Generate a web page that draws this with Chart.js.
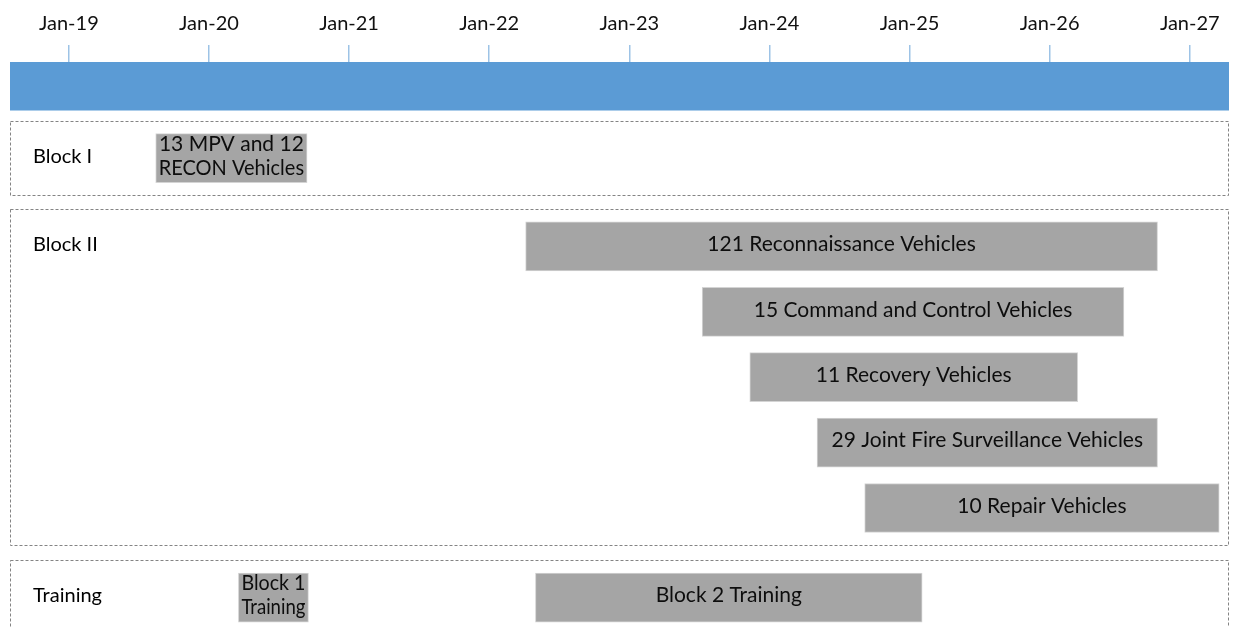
<!DOCTYPE html>
<html>
<head>
<meta charset="utf-8">
<script src="https://cdn.jsdelivr.net/npm/chart.js@4"></script>
<style>
  html, body { margin: 0; padding: 0; background: #fff; }
  #wrap { width: 1239px; height: 627px; position: relative; }
</style>
</head>
<body>
<div id="wrap"><canvas id="timeline"></canvas></div>
<script>
// dates are fractional years (2019.5 = mid 2019)
const timelineStart = 2018.58;
const timelineEnd = 2027.28;
const tickLabels = ['Jan-19', 'Jan-20', 'Jan-21', 'Jan-22', 'Jan-23', 'Jan-24', 'Jan-25', 'Jan-26', 'Jan-27'];
const tickYears = [2019, 2020, 2021, 2022, 2023, 2024, 2025, 2026, 2027];

const groupNames = ['Block I', 'Block II', 'Training'];

const tasks = [
  '13 MPV and 12\nRECON Vehicles',
  '121 Reconnaissance Vehicles',
  '15 Command and Control Vehicles',
  '11 Recovery Vehicles',
  '29 Joint Fire Surveillance Vehicles',
  '10 Repair Vehicles',
  'Block 1\nTraining',
  'Block 2 Training'
];
const taskGroup = ['Block I', 'Block II', 'Block II', 'Block II', 'Block II', 'Block II', 'Training', 'Training'];
const taskLane = [0, 0, 1, 2, 3, 4, 0, 0];
const taskStart = [2019.62, 2022.26, 2023.52, 2023.86, 2024.34, 2024.68, 2020.21, 2022.33];
const taskEnd = [2020.70, 2026.77, 2026.53, 2026.20, 2026.77, 2027.21, 2020.71, 2025.09];

// layout: where each group's first lane sits on the hidden y axis (timeline band at 0)
const groupRow = { 'Block I': 1.10, 'Block II': 2.45, 'Training': 7.82 };
const boxPad = 0.57;
const font = 'Lato, "Open Sans", sans-serif';

const rowOf = i => groupRow[taskGroup[i]] + taskLane[i];

const groupBoxes = {
  id: 'groupBoxes',
  beforeDatasetsDraw(chart) {
    const { ctx, chartArea, scales: { y } } = chart;
    ctx.save();
    groupNames.forEach(name => {
      const rows = tasks.map((t, i) => i).filter(i => taskGroup[i] === name).map(rowOf);
      const top = Math.round(y.getPixelForValue(Math.min(...rows) - boxPad)) + 0.5;
      const bottom = Math.round(y.getPixelForValue(Math.max(...rows) + boxPad)) + 0.5;
      ctx.strokeStyle = '#848484';
      ctx.lineWidth = 1;
      ctx.setLineDash([3, 2]);
      ctx.strokeRect(chartArea.left + 0.5, top, chartArea.right - chartArea.left - 1, bottom - top);
      ctx.setLineDash([]);
      ctx.fillStyle = '#000';
      ctx.font = '20px ' + font;
      ctx.textAlign = 'left';
      ctx.textBaseline = 'middle';
      ctx.fillText(name, chartArea.left + 23, y.getPixelForValue(Math.min(...rows)) - 2);
    });
    ctx.restore();
  }
};

const barText = {
  id: 'barText',
  afterDatasetsDraw(chart) {
    const { ctx } = chart;
    const meta = chart.getDatasetMeta(1);
    ctx.save();
    ctx.fillStyle = '#0d0d0d';
    ctx.font = '21px ' + font;
    ctx.textAlign = 'center';
    ctx.textBaseline = 'middle';
    meta.data.forEach((bar, i) => {
      const lines = tasks[i].split('\n');
      const cx = (bar.x + bar.base) / 2;
      const w = Math.abs(bar.x - bar.base) - 6;
      const lh = 24;
      const y0 = bar.y - 2 - (lines.length - 1) * lh / 2;
      lines.forEach((line, k) => ctx.fillText(line, cx, y0 + k * lh, w));
    });
    ctx.restore();
  }
};

new Chart(document.getElementById('timeline'), {
  type: 'bar',
  data: {
    datasets: [
      {
        label: 'Timeline',
        data: [{ x: [timelineStart, timelineEnd], y: 0 }],
        backgroundColor: '#5b9bd5',
        borderWidth: 0,
        maxBarThickness: 48
      },
      {
        label: 'Deliveries',
        data: tasks.map((t, i) => ({ x: [taskStart[i], taskEnd[i]], y: rowOf(i) })),
        backgroundColor: '#a5a5a5',
        borderColor: '#d4d4d4',
        borderWidth: 1,
        borderSkipped: false,
        maxBarThickness: 49
      }
    ]
  },
  options: {
    indexAxis: 'y',
    responsive: true,
    maintainAspectRatio: false,
    animation: false,
    layout: { padding: { left: 10, right: 10, top: 0, bottom: 0 } },
    datasets: { bar: { grouped: false, barPercentage: 1, categoryPercentage: 1 } },
    plugins: { legend: { display: false }, tooltip: { enabled: false } },
    scales: {
      x: {
        type: 'linear',
        position: 'top',
        min: timelineStart,
        max: timelineEnd,
        afterBuildTicks: s => { s.ticks = tickYears.map(v => ({ value: v })); },
        afterFit: s => { s.height = 62; },
        ticks: {
          padding: 9,
          color: '#111',
          font: { family: font, size: 20 },
          maxRotation: 0,
          autoSkip: false,
          callback: v => tickLabels[tickYears.indexOf(v)]
        },
        grid: { drawOnChartArea: false, drawTicks: true, tickLength: 17, color: '#9dc3e6', lineWidth: 1.5 },
        border: { display: false }
      },
      y: {
        type: 'linear',
        reverse: true,
        display: false,
        offset: false,
        grace: 0,
        min: -0.37,
        max: 8.27,
        afterBuildTicks: s => { s.ticks = [{ value: -0.37 }, { value: 8.27 }]; }
      }
    }
  },
  plugins: [groupBoxes, barText]
});
</script>
</body>
</html>
